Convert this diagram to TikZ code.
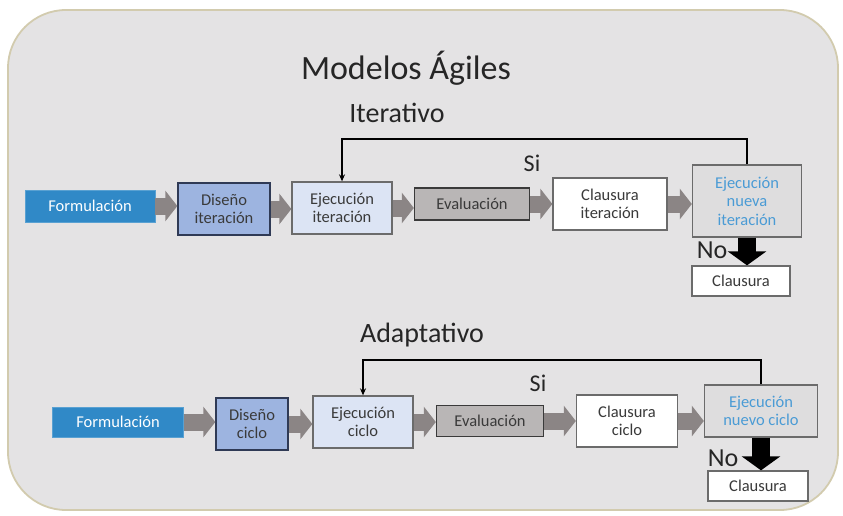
\documentclass[tikz,border=0pt]{standalone}
\usepackage{fontspec}
\setmainfont{Carlito}
\usetikzlibrary{arrows.meta}
\definecolor{panel}{HTML}{E4E3E4}
\definecolor{panelrim}{HTML}{D2CBAE}
\definecolor{formblue}{HTML}{3089C7}
\definecolor{disfill}{HTML}{9DB4E0}
\definecolor{disdraw}{HTML}{2F3A55}
\definecolor{ejefill}{HTML}{DCE4F4}
\definecolor{boxdraw}{HTML}{6B6B6B}
\definecolor{evalfill}{HTML}{B9B6B6}
\definecolor{evaldraw}{HTML}{3A3A3A}
\definecolor{newfill}{HTML}{DEDDDE}
\definecolor{newtext}{HTML}{4A9BD5}
\definecolor{arrgray}{HTML}{8B8585}
\definecolor{txt}{HTML}{3A3A3A}
\tikzset{
  box/.style={rectangle, inner sep=0pt, align=center, font=\fontsize{16.5}{18.5}\selectfont, text=txt, line width=1.3pt},
  formbox/.style={box, fill=formblue, draw=formblue!80!white, text=white, line width=0.8pt},
  disbox/.style={box, fill=disfill, draw=disdraw},
  ejebox/.style={box, fill=ejefill, draw=boxdraw},
  evalbox/.style={box, fill=evalfill, draw=evaldraw},
  whitebox/.style={box, fill=white, draw=boxdraw},
  newbox/.style={box, fill=newfill, draw=boxdraw, text=newtext},
  flow/.style={draw=arrgray, line width=17pt, -{Triangle[width=30pt,length=12pt]}},
  downarrow/.style={draw=black, line width=18pt, -{Triangle[width=38pt,length=14pt]}},
  loop/.style={draw=black, line width=1.8pt, -{Stealth[length=7pt,width=6pt]}},
  heading/.style={inner sep=0pt, text=black!85},
  label/.style={inner sep=0pt, text=black!85},
}
\begin{document}
\begin{tikzpicture}[x=1pt,y=-1pt]
\useasboundingbox (0,0) rectangle (843,516);
\fill[white] (0,0) rectangle (843,516);
\draw[panelrim, line width=1.8pt, fill=panel, rounded corners=58pt] (8,10) rectangle (838,510);

\node[heading, font=\fontsize{34}{38}\selectfont] (title) at (406,68) {Modelos Ágiles};
\node[heading, font=\fontsize{28}{32}\selectfont] (iter) at (397,113) {Iterativo};
\node[heading, font=\fontsize{28}{32}\selectfont] (adap) at (422,335) {Adaptativo};

% Row 1
\node[formbox, minimum width=130pt, minimum height=32pt] (f1) at (90,206) {Formulación};
\node[disbox, minimum width=92pt, minimum height=52pt] (d1) at (224,209) {Diseño\\iteración};
\node[ejebox, minimum width=100pt, minimum height=52pt] (e1) at (342,208) {Ejecución\\iteración};
\node[evalbox, minimum width=115pt, minimum height=32pt] (v1) at (472,204) {Evaluación};
\node[whitebox, minimum width=114pt, minimum height=52pt] (c1) at (610,204) {Clausura\\iteración};
\node[newbox, minimum width=109pt, minimum height=72pt] (n1) at (747,201) {Ejecución\\nueva\\iteración};
\node[whitebox, minimum width=98pt, minimum height=30pt] (k1) at (741,281) {Clausura};
\node[label, font=\fontsize{24}{28}\selectfont] (si1) at (532,163) {Si};
\node[label, font=\fontsize{26}{30}\selectfont] (no1) at (712,250) {No};

\draw[flow] (f1.east) -- (f1.east -| d1.west);
\draw[flow] (d1.east) -- (d1.east -| e1.west);
\draw[flow] (e1.east) -- (e1.east -| v1.west);
\draw[flow] (v1.east) -- (v1.east -| c1.west);
\draw[flow] (c1.east) -- (c1.east -| n1.west);
\draw[downarrow] (n1.south) -- (n1.south |- k1.north);
\draw[loop] (n1.north) -- ++(0,-25) -| (e1.north);

% Row 2
\node[formbox, minimum width=131pt, minimum height=30pt] (f2) at (118,422) {Formulación};
\node[disbox, minimum width=72pt, minimum height=52pt] (d2) at (252,424) {Diseño\\ciclo};
\node[ejebox, minimum width=100pt, minimum height=52pt] (e2) at (363,422) {Ejecución\\ciclo};
\node[evalbox, minimum width=107pt, minimum height=31pt] (v2) at (490,421) {Evaluación};
\node[whitebox, minimum width=101pt, minimum height=52pt] (c2) at (627,421) {Clausura\\ciclo};
\node[newbox, minimum width=113pt, minimum height=52pt] (n2) at (761,411) {Ejecución\\nuevo ciclo};
\node[whitebox, minimum width=100pt, minimum height=30pt] (k2) at (758,486) {Clausura};
\node[label, font=\fontsize{24}{28}\selectfont] (si2) at (538,383) {Si};
\node[label, font=\fontsize{26}{30}\selectfont] (no2) at (723,458) {No};

\draw[flow] (f2.east) -- (f2.east -| d2.west);
\draw[flow] (d2.east) -- (d2.east -| e2.west);
\draw[flow] (e2.east) -- (e2.east -| v2.west);
\draw[flow] (v2.east) -- (v2.east -| c2.west);
\draw[flow] (c2.east) -- (c2.east -| n2.west);
\draw[downarrow] (n2.south) -- (n2.south |- k2.north);
\draw[loop] (n2.north) -- ++(0,-24) -| (e2.north);
\end{tikzpicture}
\end{document}
